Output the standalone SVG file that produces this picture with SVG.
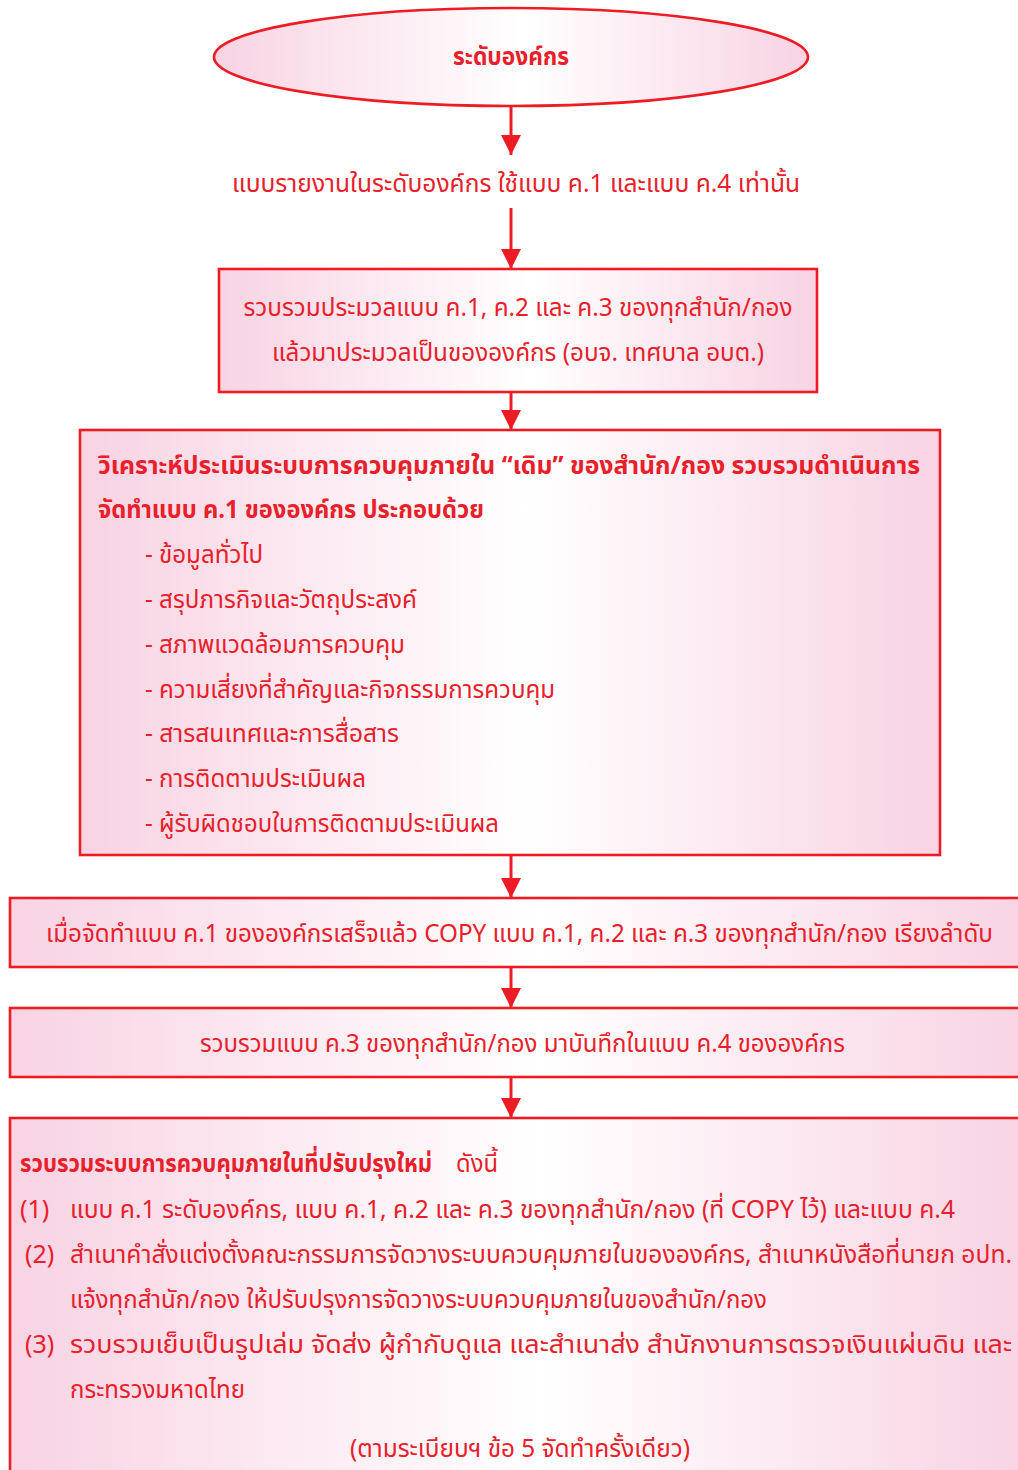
<svg xmlns="http://www.w3.org/2000/svg" width="1018" height="1470" viewBox="0 0 1018 1470">
<defs>
<linearGradient id="pk" x1="0" y1="0" x2="1" y2="0">
<stop offset="0" stop-color="#f8d3e3"/>
<stop offset="0.52" stop-color="#ffffff"/>
<stop offset="1" stop-color="#f8d3e3"/>
</linearGradient>
<marker id="ah" markerUnits="userSpaceOnUse" markerWidth="22" markerHeight="20" refX="20" refY="10" orient="auto">
<path d="M0,0 L20,10 L0,20 Z" fill="#ed1c24"/>
</marker>
<style>
.n{fill:url(#pk);stroke:#ed1c24;stroke-width:2.6}
.t{font-family:"Noto Sans Thai","Noto Sans",sans-serif;font-size:25px;fill:#e8202a}
.b{font-weight:bold}
.c{text-anchor:middle}
.e{stroke:#ed1c24;stroke-width:3;fill:none;marker-end:url(#ah)}
</style>
</defs>
<rect width="1018" height="1470" fill="#ffffff"/>
<g id="connectors">
<line class="e" x1="511" y1="107" x2="511" y2="155"/>
<line class="e" x1="511" y1="208" x2="511" y2="269"/>
<line class="e" x1="511" y1="392" x2="511" y2="430"/>
<line class="e" x1="511" y1="856" x2="511" y2="898"/>
<line class="e" x1="511" y1="968" x2="511" y2="1008"/>
<line class="e" x1="511" y1="1078" x2="511" y2="1118"/>
</g>
<g id="n1">
<ellipse class="n" cx="511" cy="57" rx="297" ry="49"/>
<text class="t b c" x="511" y="65" textLength="116" lengthAdjust="spacingAndGlyphs">ระดับองค์กร</text>
</g>
<g id="n2">
<text class="t c" x="516" y="192" textLength="568" lengthAdjust="spacingAndGlyphs">แบบรายงานในระดับองค์กร ใช้แบบ ค.1 และแบบ ค.4 เท่านั้น</text>
</g>
<g id="n3">
<rect class="n" x="219" y="269" width="598" height="123"/>
<text class="t c" x="518" y="316" textLength="549" lengthAdjust="spacingAndGlyphs">รวบรวมประมวลแบบ ค.1, ค.2 และ ค.3 ของทุกสำนัก/กอง</text>
<text class="t c" x="518" y="361" textLength="492" lengthAdjust="spacingAndGlyphs">แล้วมาประมวลเป็นขององค์กร (อบจ. เทศบาล อบต.)</text>
</g>
<g id="n4">
<rect class="n" x="80" y="430" width="860" height="425"/>
<text class="t b" x="98" y="474" textLength="822" lengthAdjust="spacingAndGlyphs">วิเคราะห์ประเมินระบบการควบคุมภายใน  “เดิม”  ของสำนัก/กอง  รวบรวมดำเนินการ</text>
<text class="t b" x="98" y="518" textLength="386" lengthAdjust="spacingAndGlyphs">จัดทำแบบ ค.1 ขององค์กร ประกอบด้วย</text>
<text class="t" x="145" y="563" textLength="118" lengthAdjust="spacingAndGlyphs">- ข้อมูลทั่วไป</text>
<text class="t" x="145" y="608" textLength="272" lengthAdjust="spacingAndGlyphs">- สรุปภารกิจและวัตถุประสงค์</text>
<text class="t" x="145" y="653" textLength="260" lengthAdjust="spacingAndGlyphs">- สภาพแวดล้อมการควบคุม</text>
<text class="t" x="145" y="698" textLength="410" lengthAdjust="spacingAndGlyphs">- ความเสี่ยงที่สำคัญและกิจกรรมการควบคุม</text>
<text class="t" x="145" y="742" textLength="254" lengthAdjust="spacingAndGlyphs">- สารสนเทศและการสื่อสาร</text>
<text class="t" x="145" y="787" textLength="221" lengthAdjust="spacingAndGlyphs">- การติดตามประเมินผล</text>
<text class="t" x="145" y="832" textLength="354" lengthAdjust="spacingAndGlyphs">- ผู้รับผิดชอบในการติดตามประเมินผล</text>
</g>
<g id="n5">
<rect class="n" x="10" y="898" width="1020" height="69"/>
<text class="t" x="46" y="942" textLength="947" lengthAdjust="spacingAndGlyphs">เมื่อจัดทำแบบ ค.1 ขององค์กรเสร็จแล้ว COPY แบบ ค.1, ค.2 และ ค.3 ของทุกสำนัก/กอง เรียงลำดับ</text>
</g>
<g id="n6">
<rect class="n" x="10" y="1008" width="1020" height="69"/>
<text class="t" x="200" y="1052" textLength="645" lengthAdjust="spacingAndGlyphs">รวบรวมแบบ ค.3 ของทุกสำนัก/กอง มาบันทึกในแบบ ค.4 ขององค์กร</text>
</g>
<g id="n7">
<rect class="n" x="10" y="1118" width="1020" height="370"/>
<text class="t b" x="20" y="1172" textLength="412" lengthAdjust="spacingAndGlyphs">รวบรวมระบบการควบคุมภายในที่ปรับปรุงใหม่</text>
<text class="t" x="456" y="1172" textLength="42" lengthAdjust="spacingAndGlyphs">ดังนี้</text>
<text class="t" x="20" y="1218">(1)</text>
<text class="t" x="70" y="1218" textLength="885" lengthAdjust="spacingAndGlyphs">แบบ ค.1 ระดับองค์กร, แบบ ค.1, ค.2 และ ค.3 ของทุกสำนัก/กอง (ที่ COPY ไว้) และแบบ ค.4</text>
<text class="t" x="25" y="1263">(2)</text>
<text class="t" x="70" y="1263" textLength="942" lengthAdjust="spacingAndGlyphs">สำเนาคำสั่งแต่งตั้งคณะกรรมการจัดวางระบบควบคุมภายในขององค์กร,  สำเนาหนังสือที่นายก  อปท.</text>
<text class="t" x="70" y="1308" textLength="697" lengthAdjust="spacingAndGlyphs">แจ้งทุกสำนัก/กอง ให้ปรับปรุงการจัดวางระบบควบคุมภายในของสำนัก/กอง</text>
<text class="t" x="25" y="1353">(3)</text>
<text class="t" x="70" y="1353" textLength="942" lengthAdjust="spacingAndGlyphs">รวบรวมเย็บเป็นรูปเล่ม  จัดส่ง  ผู้กำกับดูแล  และสำเนาส่ง  สำนักงานการตรวจเงินแผ่นดิน  และ</text>
<text class="t" x="70" y="1398" textLength="175" lengthAdjust="spacingAndGlyphs">กระทรวงมหาดไทย</text>
<text class="t c" x="520" y="1457" textLength="340" lengthAdjust="spacingAndGlyphs">(ตามระเบียบฯ ข้อ 5 จัดทำครั้งเดียว)</text>
</g>
</svg>
